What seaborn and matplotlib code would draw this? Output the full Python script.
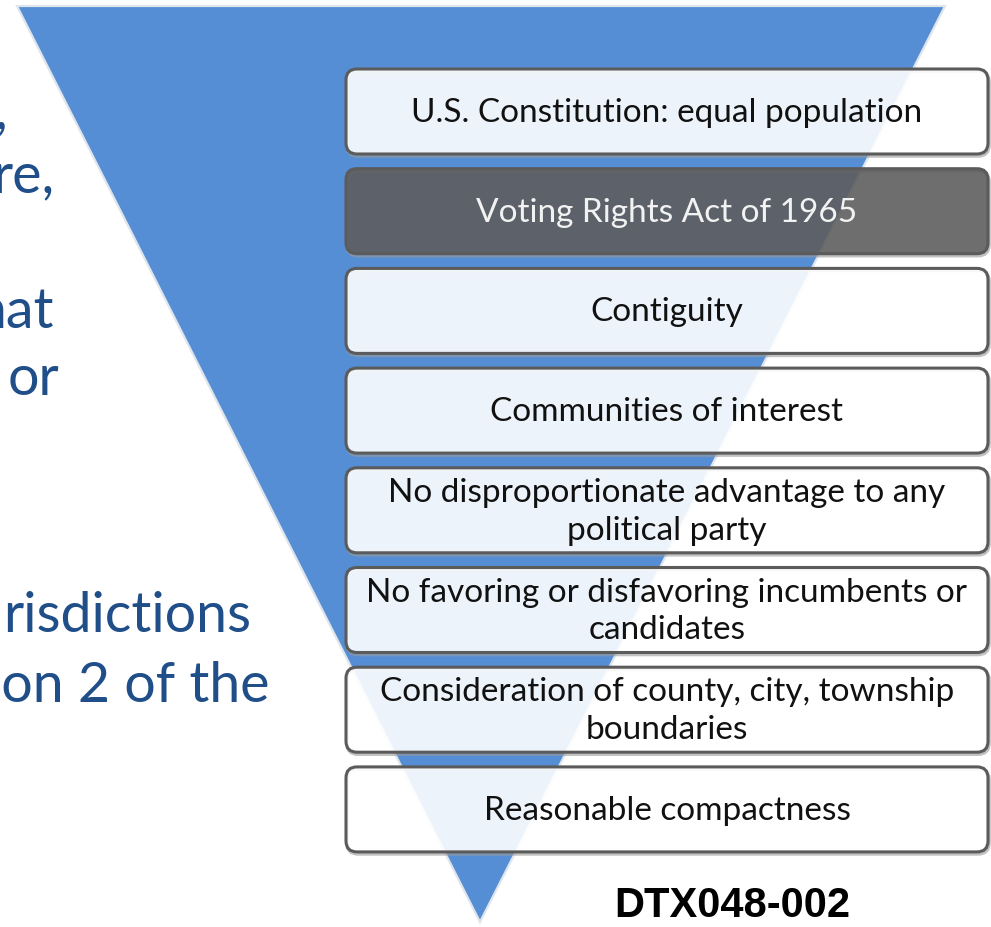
import matplotlib
matplotlib.use("Agg")
import matplotlib.pyplot as plt
import seaborn as sns
from matplotlib.patches import Polygon, FancyBboxPatch

# Criteria listed in the funnel, top to bottom
criteria = [
    "U.S. Constitution: equal population",
    "Voting Rights Act of 1965",
    "Contiguity",
    "Communities of interest",
    "No disproportionate advantage to any\npolitical party",
    "No favoring or disfavoring incumbents or\ncandidates",
    "Consideration of county, city, township\nboundaries",
    "Reasonable compactness",
]
highlighted = [False, True, False, False, False, False, False, False]

# Fragments of the slide text cut off at the left edge
left_lines = [",", "re,", "hat", "or", "risdictions", "ion 2 of the"]
left_baselines = [128, 192, 328, 395, 632, 702]
left_right_ends = [8, 54, 54, 59, 251, 269]

exhibit_label = "DTX048-002"

sns.set_theme(style="white")
plt.rcParams["font.family"] = ["Lato", "DejaVu Sans"]

W, H = 991, 927
fig = plt.figure(figsize=(W / 100, H / 100), dpi=100)
ax = fig.add_axes([0, 0, 1, 1])
ax.set_xlim(0, W)
ax.set_ylim(H, 0)
ax.axis("off")

blue = "#558ed5"

# inverted triangle with thin light outline
tri = Polygon([(17, 6), (945, 6), (480, 922)], closed=True,
              facecolor=blue, edgecolor="#dfe5ec", linewidth=1.6, zorder=1)
ax.add_patch(tri)

# left slide text
for txt, yb, xr in zip(left_lines, left_baselines, left_right_ends):
    ax.text(xr, yb, txt, ha="right", va="baseline", fontsize=40,
            color="#1f4e89", zorder=2)

# boxes
box_left, box_right = 346, 988
box_top0, box_step, box_h = 69, 99.7, 85
for i, (label, hl) in enumerate(zip(criteria, highlighted)):
    top = box_top0 + i * box_step
    # soft shadow
    shadow = FancyBboxPatch((box_left + 1, top + 2), box_right - box_left, box_h,
                            boxstyle="round,pad=0,rounding_size=11",
                            facecolor="none", edgecolor="#9a9a9a",
                            linewidth=2.6, alpha=0.6, zorder=3)
    ax.add_patch(shadow)
    face = "#5e5e5e" if hl else "white"
    box = FancyBboxPatch((box_left, top), box_right - box_left, box_h,
                         boxstyle="round,pad=0,rounding_size=11",
                         facecolor=face, edgecolor="none", alpha=0.9, zorder=4)
    ax.add_patch(box)
    edge = FancyBboxPatch((box_left, top), box_right - box_left, box_h,
                          boxstyle="round,pad=0,rounding_size=11",
                          facecolor="none", edgecolor="#5b5b5b",
                          linewidth=2.2, zorder=5)
    ax.add_patch(edge)
    ax.text((box_left + box_right) / 2, top + box_h / 2 + 1.5, label,
            ha="center", va="center", fontsize=24, linespacing=1.32,
            color="#f2f2f2" if hl else "#111111", zorder=6)

ax.text(732, 906, exhibit_label, ha="center", va="center", fontsize=30,
        fontweight="bold", family=["Liberation Sans", "DejaVu Sans"],
        color="black", zorder=6)

fig.savefig("out.png", dpi=100)
